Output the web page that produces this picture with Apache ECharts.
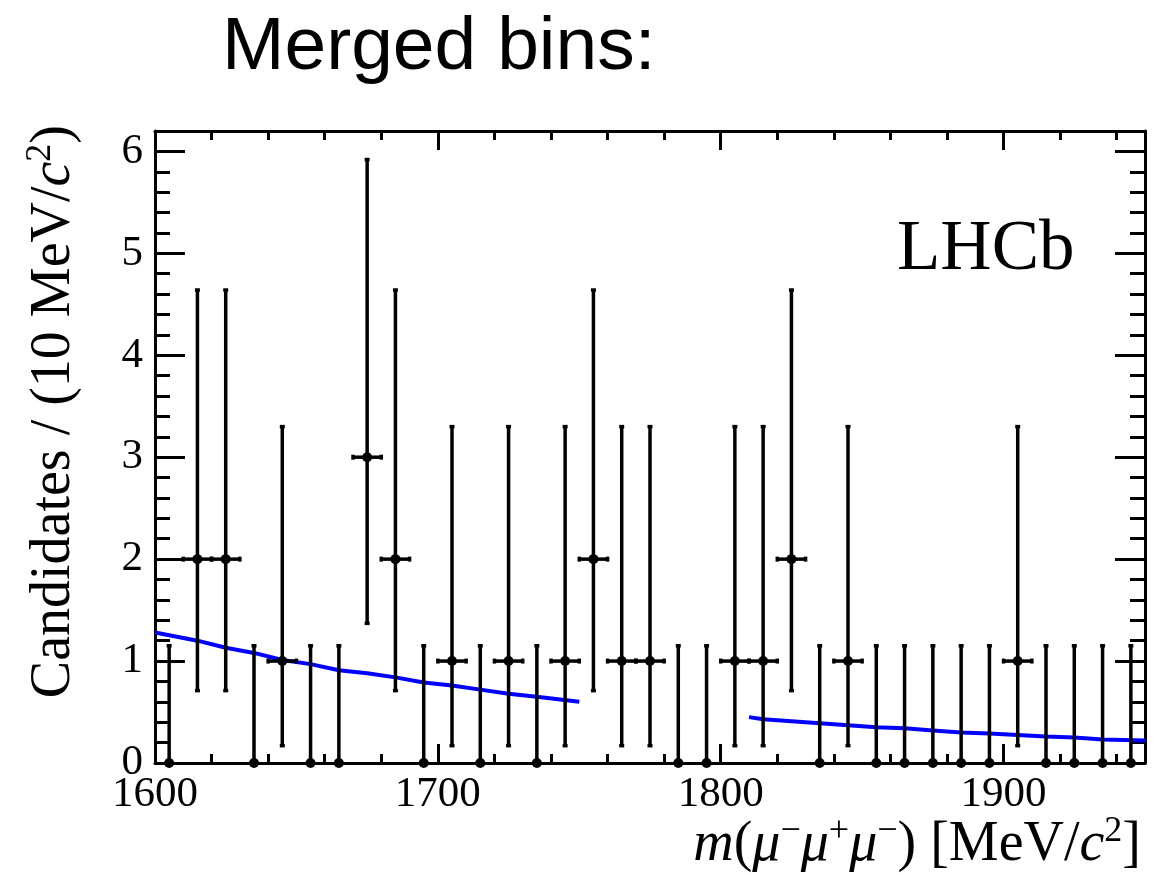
<!DOCTYPE html>
<html>
<head>
<meta charset="utf-8">
<script src="https://cdn.jsdelivr.net/npm/echarts@6/dist/echarts.min.js"></script>
<style>
html,body{margin:0;padding:0;background:#fff;}
#chart{width:1170px;height:875px;}
</style>
</head>
<body>
<div id="chart"></div>
<script>
// ---- data ----
const binCenters = [1605,1615,1625,1635,1645,1655,1665,1675,1685,1695,
                    1705,1715,1725,1735,1745,1755,1765,1775,1785,1795,
                    1805,1815,1825,1835,1845,1855,1865,1875,1885,1895,
                    1905,1915,1925,1935,1945];
const counts = [0,2,2,0,1,0,0,3,2,0,
                1,0,1,0,1,2,1,1,0,0,
                1,1,2,0,1,0,0,0,0,0,
                1,0,0,0,0];
const errLow = [0,0.71,0.71,0,0.17,0,0,1.37,0.71,0,
                0.17,0,0.17,0,0.17,0.71,0.17,0.17,0,0,
                0.17,0.17,0.71,0,0.17,0,0,0,0,0,
                0.17,0,0,0,0];
const errHigh = [1.15,4.64,4.64,1.15,3.30,1.15,1.15,5.92,4.64,1.15,
                 3.30,1.15,3.30,1.15,3.30,4.64,3.30,3.30,1.15,1.15,
                 3.30,3.30,4.64,1.15,3.30,1.15,1.15,1.15,1.15,1.15,
                 3.30,1.15,1.15,1.15,1.15];
const binHalfWidth = 5;
const fitSeg1 = [[1600,1.28],[1615,1.20],[1625,1.13],[1635,1.08],[1645,1.01],
                 [1655,0.97],[1665,0.91],[1675,0.88],[1685,0.84],[1695,0.79],
                 [1705,0.76],[1715,0.72],[1725,0.68],[1735,0.65],[1750,0.60]];
const fitSeg2 = [[1810,0.45],[1815,0.43],[1825,0.41],[1835,0.39],[1845,0.37],
                 [1855,0.35],[1865,0.34],[1875,0.32],[1885,0.30],[1895,0.29],
                 [1905,0.275],[1915,0.26],[1925,0.25],[1935,0.23],[1950,0.22]];
const xTickLabels = [1600,1700,1800,1900];
const yTickLabels = [0,1,2,3,4,5,6];

// ---- chart ----
const serif = '"Liberation Serif", "Times New Roman", serif';
const pointData = binCenters.map((x, i) => [x, counts[i], errLow[i], errHigh[i]]);

function xAxisDef(pos, interval, tickLen, showLabel, showLine) {
  return {
    type: 'value', position: pos, min: 1600, max: 1950, interval: interval,
    axisLine: { show: showLine, onZero: false, lineStyle: { color: '#000', width: 3 } },
    axisTick: { show: true, inside: true, length: tickLen, lineStyle: { color: '#000', width: 3 } },
    minorTick: { show: false },
    splitLine: { show: false },
    axisLabel: {
      show: showLabel, color: '#000', fontFamily: serif, fontSize: 43, margin: 10,
      formatter: v => (xTickLabels.indexOf(v) >= 0 ? String(v) : '')
    }
  };
}
function yAxisDef(pos, interval, tickLen, showLabel, showLine) {
  return {
    type: 'value', position: pos, min: 0, max: 6.2, interval: interval,
    axisLine: { show: showLine, onZero: false, lineStyle: { color: '#000', width: 3 } },
    axisTick: { show: true, inside: true, length: tickLen, lineStyle: { color: '#000', width: 3 } },
    minorTick: { show: false },
    splitLine: { show: false },
    axisLabel: {
      show: showLabel, color: '#000', fontFamily: serif, fontSize: 43, margin: 12,
      formatter: v => (yTickLabels.indexOf(v) >= 0 ? String(v) : '')
    }
  };
}

const chart = echarts.init(document.getElementById('chart'), null, { renderer: 'canvas' });
const option = {
  animation: false,
  backgroundColor: '#fff',
  grid: { left: 155, right: 25, top: 131, bottom: 112, containLabel: false, outerBoundsMode: 'none' },
  xAxis: [
    xAxisDef('bottom', 100, 19, true, true),
    xAxisDef('bottom', 20, 9, false, false),
    xAxisDef('top', 100, 19, false, true),
    xAxisDef('top', 20, 9, false, false)
  ],
  yAxis: [
    yAxisDef('left', 1, 30, true, true),
    yAxisDef('left', 0.2, 15, false, false),
    yAxisDef('right', 1, 30, false, true),
    yAxisDef('right', 0.2, 15, false, false)
  ],
  series: [
    {
      type: 'line', data: fitSeg1, xAxisIndex: 0, yAxisIndex: 0,
      symbol: 'none', showSymbol: false, silent: true, z: 2,
      lineStyle: { color: '#0000ff', width: 4 }
    },
    {
      type: 'line', data: fitSeg2, xAxisIndex: 0, yAxisIndex: 0,
      symbol: 'none', showSymbol: false, silent: true, z: 2,
      lineStyle: { color: '#0000ff', width: 4 }
    },
    {
      type: 'custom', xAxisIndex: 0, yAxisIndex: 0, z: 5, clip: false,
      data: pointData,
      encode: { x: 0, y: [1, 2, 3] },
      renderItem: function (params, api) {
        const x = api.value(0), n = api.value(1), lo = api.value(2), hi = api.value(3);
        const c = api.coord([x, n]);
        const pLo = api.coord([x, lo]);
        const pHi = api.coord([x, hi]);
        const st = { stroke: '#000', lineWidth: 3.5 };
        const cap = 2.5;
        const ch = [
          { type: 'line', shape: { x1: c[0], y1: pLo[1], x2: c[0], y2: pHi[1] }, style: st },
          { type: 'line', shape: { x1: c[0] - cap, y1: pHi[1], x2: c[0] + cap, y2: pHi[1] }, style: st }
        ];
        if (lo > 0) {
          ch.push({ type: 'line', shape: { x1: c[0] - cap, y1: pLo[1], x2: c[0] + cap, y2: pLo[1] }, style: st });
        }
        if (n > 0) {
          const pL = api.coord([x - binHalfWidth, n]);
          const pR = api.coord([x + binHalfWidth, n]);
          ch.push({ type: 'line', shape: { x1: pL[0], y1: c[1], x2: pR[0], y2: c[1] }, style: st });
          ch.push({ type: 'line', shape: { x1: pL[0], y1: c[1] - cap, x2: pL[0], y2: c[1] + cap }, style: st });
          ch.push({ type: 'line', shape: { x1: pR[0], y1: c[1] - cap, x2: pR[0], y2: c[1] + cap }, style: st });
        }
        ch.push({ type: 'circle', shape: { cx: c[0], cy: c[1], r: 5 }, style: { fill: '#000' } });
        return { type: 'group', children: ch };
      }
    }
  ],
  graphic: [
    {
      type: 'text', x: 222, y: 48,
      style: {
        text: 'Merged bins:', x: 0, y: 0,
        font: '75px "Liberation Sans", Arial, sans-serif', fill: '#000',
        align: 'left', verticalAlign: 'middle', textAlign: 'left', textVerticalAlign: 'middle'
      }
    },
    {
      type: 'text', x: 897, y: 250,
      style: {
        text: 'LHCb', x: 0, y: 0,
        font: '71px ' + serif, fill: '#000',
        align: 'left', verticalAlign: 'middle', textAlign: 'left', textVerticalAlign: 'middle'
      }
    },
    {
      type: 'text', x: 1141, y: 845,
      style: {
        text: '{i|m}({i|μ}{s|−}{i|μ}{s|+}{i|μ}{s|−}) [MeV/{i|c}{s|2}]', x: 0, y: 0,
        font: '56px ' + serif, fill: '#000', lineHeight: 62,
        align: 'right', verticalAlign: 'middle', textAlign: 'right', textVerticalAlign: 'middle',
        rich: {
          i: { font: 'italic 56px ' + serif, fill: '#000', lineHeight: 62 },
          s: { font: '36px ' + serif, fill: '#000', lineHeight: 42, verticalAlign: 'top' }
        }
      }
    },
    {
      type: 'text', x: 54, y: 125, rotation: Math.PI / 2,
      style: {
        text: 'Candidates / (10 MeV/{i|c}{s|2})', x: 0, y: 0,
        font: '56px ' + serif, fill: '#000', lineHeight: 62,
        align: 'right', verticalAlign: 'middle', textAlign: 'right', textVerticalAlign: 'middle',
        rich: {
          i: { font: 'italic 56px ' + serif, fill: '#000', lineHeight: 62 },
          s: { font: '36px ' + serif, fill: '#000', lineHeight: 42, verticalAlign: 'top' }
        }
      }
    }
  ]
};
chart.setOption(option);
</script>
</body>
</html>
